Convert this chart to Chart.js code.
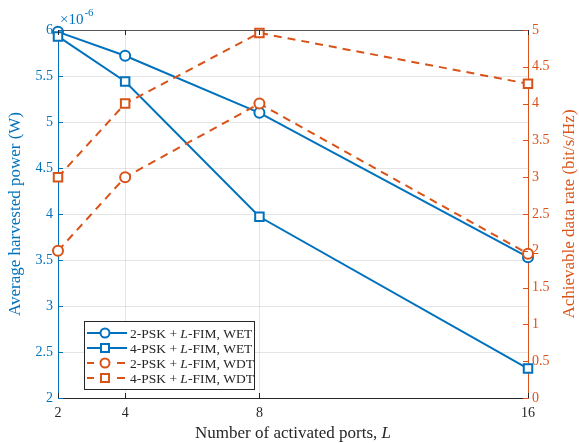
<!DOCTYPE html>
<html>
<head>
<meta charset="utf-8">
<script src="https://cdn.jsdelivr.net/npm/chart.js@4/dist/chart.umd.min.js"></script>
<style>
  html, body { margin: 0; padding: 0; background: #fff; }
  #wrap { width: 579px; height: 443px; position: relative; }
</style>
</head>
<body>
<div id="wrap"><canvas id="myChart" width="579" height="443"></canvas></div>
<script>
// number of activated ports L
const ports = [2, 4, 8, 16];
const xTicks = [2, 4, 8, 16];

// average harvested power, in units of 1e-6 W (left axis)
const wet2psk = [5.98, 5.72, 5.10, 3.53];
const wet4psk = [5.93, 5.44, 3.97, 2.32];

// achievable data rate, bit/s/Hz (right axis)
const wdt2psk = [2.0, 3.0, 4.0, 1.96];
const wdt4psk = [3.0, 4.0, 4.96, 4.27];

const legendNames = [
    ['2-PSK + ', 'L', '-FIM, WET'],
    ['4-PSK + ', 'L', '-FIM, WET'],
    ['2-PSK + ', 'L', '-FIM, WDT'],
    ['4-PSK + ', 'L', '-FIM, WDT']
];

const BLUE = '#0072BD';
const ORANGE = '#D95319';
const DARK = '#262626';
const SERIF = '"Liberation Serif", "DejaVu Serif", serif';

function pts(vals) {
    return ports.map((x, i) => ({ x: x, y: vals[i] }));
}

function fmt(v) {
    return String(Number(v.toFixed(2)));
}

function ds(vals, color, style, axis, dashed, order) {
    return {
        data: pts(vals),
        yAxisID: axis,
        borderColor: color,
        backgroundColor: '#fff',
        borderWidth: 2,
        borderDash: dashed ? [8, 6] : [],
        pointStyle: style,
        pointRadius: style === 'rect' ? 6 : 5,
        pointBorderWidth: 2,
        pointBorderColor: color,
        pointBackgroundColor: '#fff',
        tension: 0,
        clip: false,
        order: order
    };
}

const extras = {
    id: 'extras',
    afterDraw(chart) {
        const ctx = chart.ctx;
        const a = chart.chartArea;
        const sx = chart.scales.x, sl = chart.scales.y, sr = chart.scales.y1;
        ctx.save();

        // top border
        ctx.strokeStyle = '#555';
        ctx.lineWidth = 1;
        ctx.beginPath();
        ctx.moveTo(a.left, a.top + 0.5);
        ctx.lineTo(a.right, a.top + 0.5);
        ctx.stroke();

        // inward ticks
        const tl = 5;
        ctx.strokeStyle = BLUE;
        sl.ticks.forEach(t => {
            const y = Math.round(sl.getPixelForValue(t.value)) + 0.5;
            ctx.beginPath(); ctx.moveTo(a.left, y); ctx.lineTo(a.left + tl, y); ctx.stroke();
        });
        ctx.strokeStyle = ORANGE;
        sr.ticks.forEach(t => {
            const y = Math.round(sr.getPixelForValue(t.value)) + 0.5;
            ctx.beginPath(); ctx.moveTo(a.right, y); ctx.lineTo(a.right - tl, y); ctx.stroke();
        });
        ctx.strokeStyle = DARK;
        sx.ticks.forEach(t => {
            const x = Math.round(sx.getPixelForValue(t.value)) + 0.5;
            ctx.beginPath(); ctx.moveTo(x, a.bottom); ctx.lineTo(x, a.bottom - tl); ctx.stroke();
            ctx.beginPath(); ctx.moveTo(x, a.top); ctx.lineTo(x, a.top + tl); ctx.stroke();
        });

        // exponent label
        ctx.fillStyle = BLUE;
        ctx.textBaseline = 'alphabetic';
        ctx.textAlign = 'left';
        ctx.font = '15px ' + SERIF;
        ctx.fillText('\u00d710', a.left + 2, a.top - 6);
        const w = ctx.measureText('\u00d710').width;
        ctx.font = '11px ' + SERIF;
        ctx.fillText('-6', a.left + 2 + w + 1, a.top - 14);

        // x axis title with italic L
        ctx.fillStyle = DARK;
        const t1 = 'Number of activated ports, ';
        ctx.font = 'italic 17px ' + SERIF;
        const wl = ctx.measureText('L').width;
        ctx.font = '17px ' + SERIF;
        const w1 = ctx.measureText(t1).width;
        const cx = (a.left + a.right) / 2;
        let x0 = cx - (w1 + wl) / 2;
        ctx.fillText(t1, x0, 438);
        ctx.font = 'italic 17px ' + SERIF;
        ctx.fillText('L', x0 + w1, 438);

        // right axis title, reading bottom to top
        ctx.save();
        ctx.translate(570, (a.top + a.bottom) / 2);
        ctx.rotate(-Math.PI / 2);
        ctx.fillStyle = ORANGE;
        ctx.font = '17px ' + SERIF;
        ctx.textAlign = 'center';
        ctx.textBaseline = 'middle';
        ctx.fillText('Achievable data rate (bit/s/Hz)', 0, 0);
        ctx.restore();

        // legend
        const bx = 84.5, by = 321.5, bw = 170, bh = 68;
        ctx.fillStyle = '#fff';
        ctx.fillRect(bx, by, bw, bh);
        ctx.strokeStyle = DARK;
        ctx.lineWidth = 1;
        ctx.strokeRect(bx, by, bw, bh);
        chart.data.datasets.forEach((d, i) => {
            const y = 333 + i * 15;
            ctx.strokeStyle = d.borderColor;
            ctx.lineWidth = 2;
            ctx.setLineDash([]);
            ctx.beginPath();
            if (d.borderDash.length) {
                ctx.moveTo(87, y); ctx.lineTo(94, y);
                ctx.moveTo(117, y); ctx.lineTo(125, y);
            } else {
                ctx.moveTo(87, y); ctx.lineTo(127, y);
            }
            ctx.stroke();
            ctx.fillStyle = '#fff';
            ctx.beginPath();
            if (d.pointStyle === 'rect') {
                ctx.rect(101, y - 4, 8, 8);
            } else {
                ctx.arc(105, y, 4.5, 0, Math.PI * 2);
            }
            ctx.fill();
            ctx.stroke();

            const parts = legendNames[i];
            let tx = 130;
            ctx.fillStyle = DARK;
            ctx.textAlign = 'left';
            ctx.textBaseline = 'middle';
            parts.forEach((p, k) => {
                ctx.font = (k === 1 ? 'italic ' : '') + '13.5px ' + SERIF;
                ctx.fillText(p, tx, y + 1);
                tx += ctx.measureText(p).width;
            });
        });
        ctx.restore();
    }
};

const ctx = document.getElementById('myChart').getContext('2d');
const myChart = new Chart(ctx, {
    type: 'line',
    data: {
        datasets: [
            ds(wet2psk, BLUE, 'circle', 'y', false, 3),
            ds(wet4psk, BLUE, 'rect', 'y', false, 2),
            ds(wdt2psk, ORANGE, 'circle', 'y1', true, 1),
            ds(wdt4psk, ORANGE, 'rect', 'y1', true, 0)
        ]
    },
    options: {
        responsive: false,
        animation: false,
        layout: { padding: { top: 30, left: 0, right: 0, bottom: 0 } },
        plugins: { legend: { display: false }, tooltip: { enabled: false } },
        scales: {
            x: {
                type: 'linear',
                min: 2,
                max: 16,
                afterBuildTicks: scale => { scale.ticks = xTicks.map(v => ({ value: v })); },
                afterFit: scale => { scale.height = 45; },
                grid: { color: 'rgba(38,38,38,0.12)', drawTicks: false },
                border: { color: DARK, width: 1 },
                ticks: { color: DARK, font: { family: SERIF, size: 14 }, padding: 7, maxRotation: 0 }
            },
            y: {
                position: 'left',
                min: 2,
                max: 6,
                afterFit: scale => { scale.width = 58; },
                grid: { color: 'rgba(38,38,38,0.12)', drawTicks: false },
                border: { color: BLUE, width: 1 },
                ticks: { stepSize: 0.5, color: BLUE, font: { family: SERIF, size: 14 }, padding: 5, callback: fmt },
                title: {
                    display: true,
                    text: 'Average harvested power (W)',
                    color: BLUE,
                    font: { family: SERIF, size: 17 },
                    padding: { top: 5, bottom: 0 }
                }
            },
            y1: {
                position: 'right',
                min: 0,
                max: 5,
                afterFit: scale => { scale.width = 51; },
                grid: { drawOnChartArea: false, drawTicks: false },
                border: { color: ORANGE, width: 1 },
                ticks: { stepSize: 0.5, color: ORANGE, font: { family: SERIF, size: 14 }, padding: 4, callback: fmt }
            }
        }
    },
    plugins: [extras]
});
</script>
</body>
</html>
